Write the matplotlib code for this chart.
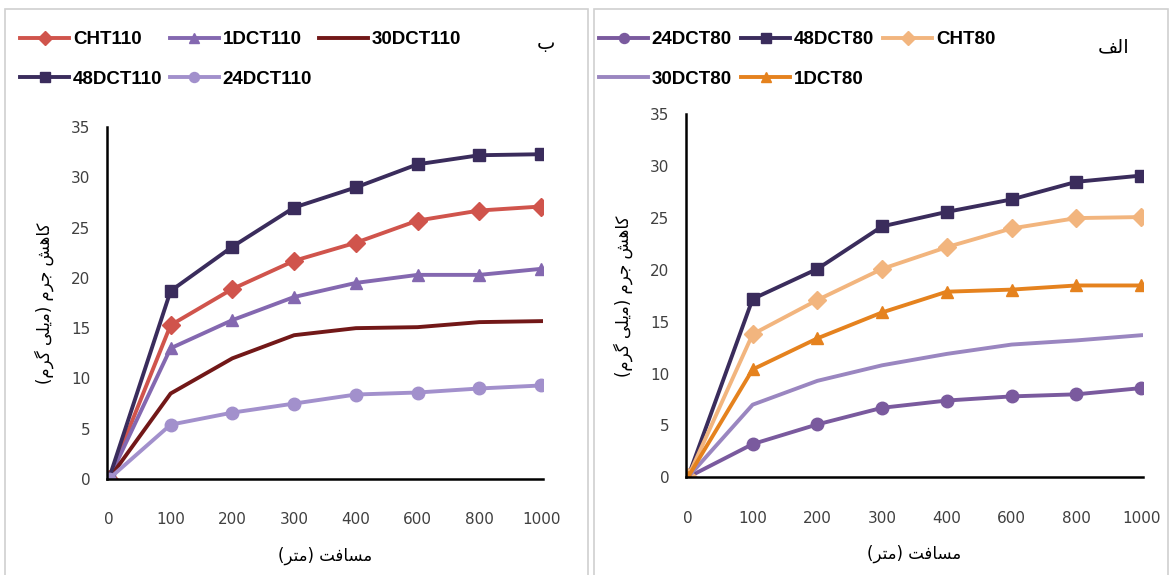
import matplotlib
matplotlib.use("Agg")
import matplotlib.pyplot as plt
from matplotlib.patches import Rectangle

plt.rcParams['font.family'] = ['Liberation Sans Narrow', 'DejaVu Sans']

distances = ['0', '100', '200', '300', '400', '600', '800', '1000']

# --- panel b (110) ---
cht110 = [0, 15.3, 18.9, 21.7, 23.5, 25.7, 26.7, 27.1]
dct1_110 = [0, 13.0, 15.8, 18.1, 19.5, 20.3, 20.3, 20.9]
dct30_110 = [0, 8.5, 12.0, 14.3, 15.0, 15.1, 15.6, 15.7]
dct48_110 = [0, 18.7, 23.1, 27.0, 29.0, 31.3, 32.2, 32.3]
dct24_110 = [0, 5.4, 6.6, 7.5, 8.4, 8.6, 9.0, 9.3]

# --- panel alef (80) ---
dct24_80 = [0, 3.2, 5.1, 6.7, 7.4, 7.8, 8.0, 8.6]
dct48_80 = [0, 17.2, 20.1, 24.2, 25.6, 26.8, 28.5, 29.1]
cht80 = [0, 13.8, 17.1, 20.1, 22.2, 24.0, 25.0, 25.1]
dct30_80 = [0, 7.0, 9.3, 10.8, 11.9, 12.8, 13.2, 13.7]
dct1_80 = [0, 10.4, 13.4, 15.9, 17.9, 18.1, 18.5, 18.5]

# persian text, shaped by hand (presentation forms, visual order)
xlabel_fa = '(\ufeae\ufe98\ufee3) \ufe96\ufed3\ufe8e\ufeb4\ufee3'
ylabel_fa = '(\ufee1\ufeae\ufb94 \ufbfd\ufee0\ufbfe\ufee3) \ufee1\ufeae\ufe9f \ufeb6\ufeeb\ufe8e\ufb90'
label_b = '\u0628'
label_alef = '\ufed2\ufedf\ufe8d'

fig = plt.figure(figsize=(11.72, 5.75), dpi=100)

# panel frames
for x0, w in [(0.004, 0.498), (0.507, 0.490)]:
    fig.patches.append(Rectangle((x0, -0.01), w, 0.995, transform=fig.transFigure,
                                 fill=False, edgecolor='#d0d0d0', linewidth=1.2))


def plotPanel(ax, series, order):
    x = list(range(len(distances)))
    lines = {}
    for name, vals, color, marker in series:
        ln, = ax.plot(x, vals, color=color, linewidth=2.8, marker=marker,
                      markersize=9, label=name)
        lines[name] = ln
    ax.set_xlim(-0.03, 7.03)
    ax.set_ylim(0, 35)
    ax.set_yticks(range(0, 36, 5))
    ax.set_xticks(x)
    ax.set_xticklabels(distances)
    for s in ['top', 'right']:
        ax.spines[s].set_visible(False)
    for s in ['left', 'bottom']:
        ax.spines[s].set_linewidth(1.8)
        ax.spines[s].set_color('black')
    ax.tick_params(length=0, labelsize=11, labelcolor='#404040')
    ax.tick_params(axis='x', pad=24)
    ax.tick_params(axis='y', pad=12)
    ax.set_xlabel(xlabel_fa, family=['DejaVu Sans'], fontsize=12, labelpad=14)
    ax.set_ylabel(ylabel_fa, family=['DejaVu Sans'], fontsize=12, labelpad=12)
    return [lines[n] for n in order]


legend_font = {'weight': 'bold', 'size': 13.5,
               'family': ['Liberation Sans', 'DejaVu Sans']}

ax1 = fig.add_axes([0.0913, 0.167, 0.372, 0.612])
s1 = [
    ('CHT110', cht110, '#d0544c', 'D'),
    ('1DCT110', dct1_110, '#8468b0', '^'),
    ('30DCT110', dct30_110, '#721818', None),
    ('48DCT110', dct48_110, '#3a2c5c', 's'),
    ('24DCT110', dct24_110, '#a290cc', 'o'),
]
h1 = plotPanel(ax1, s1, ['CHT110', '48DCT110', '1DCT110', '24DCT110', '30DCT110'])
fig.legend(handles=h1, loc='upper left', bbox_to_anchor=(0.003, 0.975), ncol=3,
           frameon=False, handlelength=2.6, columnspacing=0.4, labelspacing=1.2,
           handletextpad=0.2, markerscale=0.8, prop=legend_font)

ax2 = fig.add_axes([0.5853, 0.170, 0.390, 0.631])
s2 = [
    ('24DCT80', dct24_80, '#7a5a9e', 'o'),
    ('48DCT80', dct48_80, '#3a2c5c', 's'),
    ('CHT80', cht80, '#f2b57e', 'D'),
    ('30DCT80', dct30_80, '#9a86c0', None),
    ('1DCT80', dct1_80, '#e5821e', '^'),
]
h2 = plotPanel(ax2, s2, ['24DCT80', '30DCT80', '48DCT80', '1DCT80', 'CHT80'])
fig.legend(handles=h2, loc='upper left', bbox_to_anchor=(0.497, 0.975), ncol=3,
           frameon=False, handlelength=2.6, columnspacing=0.5, labelspacing=1.2,
           handletextpad=0.2, markerscale=0.8, prop=legend_font)

fig.text(0.466, 0.925, label_b, family=['DejaVu Sans'], fontsize=14, ha='center', va='center')
fig.text(0.950, 0.918, label_alef, family=['DejaVu Sans'], fontsize=14, ha='center', va='center')

fig.savefig('out.png', dpi=100)
